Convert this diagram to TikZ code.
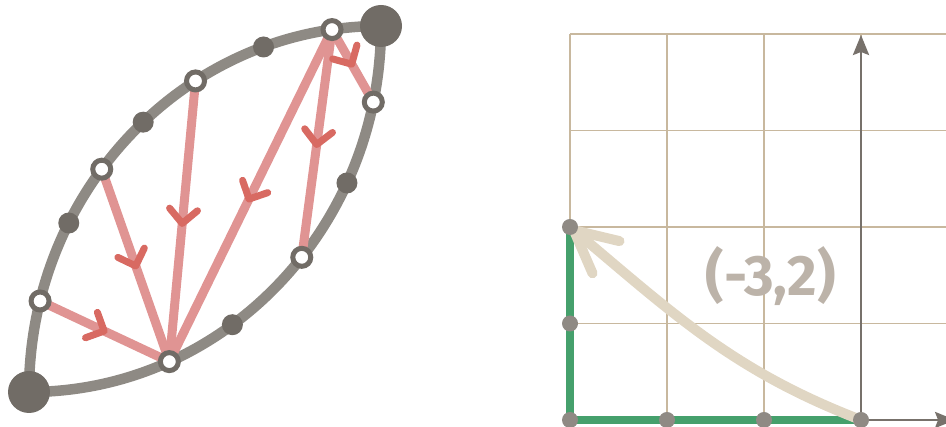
\documentclass[tikz,border=0pt]{standalone}
\usepackage{fontspec}
\setmainfont{Fira Sans}
\usetikzlibrary{arrows.meta, decorations.markings, backgrounds, calc}
\definecolor{arcgray}{RGB}{142,138,132}
\definecolor{dotdark}{RGB}{113,108,102}
\definecolor{redline}{RGB}{224,148,147}
\definecolor{redhead}{RGB}{216,106,98}
\definecolor{greenpath}{RGB}{69,160,108}
\definecolor{beige}{RGB}{224,214,195}
\definecolor{gridtan}{RGB}{200,184,158}
\definecolor{axisgray}{RGB}{119,113,107}
\definecolor{labelgray}{RGB}{188,179,169}
\definecolor{pointgray}{RGB}{143,138,132}
\tikzset{
  opendot/.style={circle, fill=white, draw=dotdark, line width=5pt,
                  inner sep=0pt, minimum size=18pt},
  fulldot/.style={circle, fill=dotdark, inner sep=0pt, minimum size=21pt},
  bigdot/.style={circle, fill=dotdark, inner sep=0pt, minimum size=42pt},
  griddot/.style={circle, fill=pointgray, inner sep=0pt, minimum size=16pt},
  lensarc/.style={arcgray, line width=10.5pt},
  flowarrow/.style={redline, line width=9pt, postaction={decorate},
    decoration={markings, mark=at position 0.52 with
      {\arrow[redhead]{Straight Barb[length=14pt,width=28pt,line width=7pt,round]}}}},
  gridline/.style={gridtan, line width=1.4pt},
  axisline/.style={axisgray, line width=2.8pt,
                   -{Stealth[length=20pt,width=16pt,inset=3pt]}},
  greenline/.style={greenpath, line width=8.5pt, line join=round},
  vecarrow/.style={beige, line width=10pt, line cap=round,
                   -{Straight Barb[length=42pt,width=42pt,line width=10pt,round]}},
  coordlabel/.style={font=\fontsize{57}{64}\selectfont\bfseries, labelgray}
}

\begin{document}
\begin{tikzpicture}[x=1pt,y=1pt]
\useasboundingbox (0,0) rectangle (946,427);

% ── Lens: two quarter ellipses ───────────────────────────────────────────────
\coordinate (uc) at (381,35);
\coordinate (lc) at (29,401);
\node[bigdot] (bl) at (29,35) {};
\node[bigdot] (tr) at (381,401) {};

% upper arc points
\foreach \name/\ang/\kind in {u1/165.6/opendot, u2/152.5/fulldot,
                              u3/142.5/opendot, u4/132.5/fulldot,
                              u5/121.8/opendot, u6/109.5/fulldot,
                              u7/98/opendot} {
  \node[\kind] (\name) at ($(uc)+(\ang:352pt and 366pt)$) {};
}
% lower arc points
\foreach \name/\ang/\kind in {l1/-66.5/opendot, l2/-54.7/fulldot,
                              l3/-39.2/opendot, l4/-25.4/fulldot,
                              l5/-12/opendot} {
  \node[\kind] (\name) at ($(lc)+(\ang:352pt and 366pt)$) {};
}

\begin{scope}[on background layer]
  \draw[lensarc] (bl.center) arc[start angle=180, end angle=90,
                                 x radius=352pt, y radius=366pt];
  \draw[lensarc] (bl.center) arc[start angle=270, end angle=360,
                                 x radius=352pt, y radius=366pt];
  \foreach \from/\to in {u1/l1, u3/l1, u5/l1, u7/l1, u7/l3, u7/l5} {
    \draw[flowarrow] (\from.center) -- (\to.center);
  }
\end{scope}

% ── Grid with the vector (-3,2) ──────────────────────────────────────────────
\begin{scope}[shift={(861,7)}, x=97pt, y=96.5pt]
  \node[griddot] (o) at (0,0) {};
  \node[griddot] (a1) at (-1,0) {};
  \node[griddot] (a2) at (-2,0) {};
  \node[griddot] (a3) at (-3,0) {};
  \node[griddot] (b1) at (-3,1) {};
  \node[griddot] (b2) at (-3,2) {};
  \coordinate (ytop) at (0,3.99);
  \coordinate (xend) at (0.97,0);
  \node[coordlabel] (vlabel) at (-0.93,1.49) {(-3,2)};

  \begin{scope}[on background layer]
    \draw[gridline, step={(1,1)}] (-3,0) grid (1.3,4);
    \draw[axisline] (o.center) -- (ytop);
    \draw[axisline] (o.center) -- (xend);
    \draw[greenline] (o.center) -- (a3.center) -- (b2.center);
    \draw[vecarrow] (o.center) to[out=159, in=-40] (b2.center);
  \end{scope}
\end{scope}

\end{tikzpicture}
\end{document}
